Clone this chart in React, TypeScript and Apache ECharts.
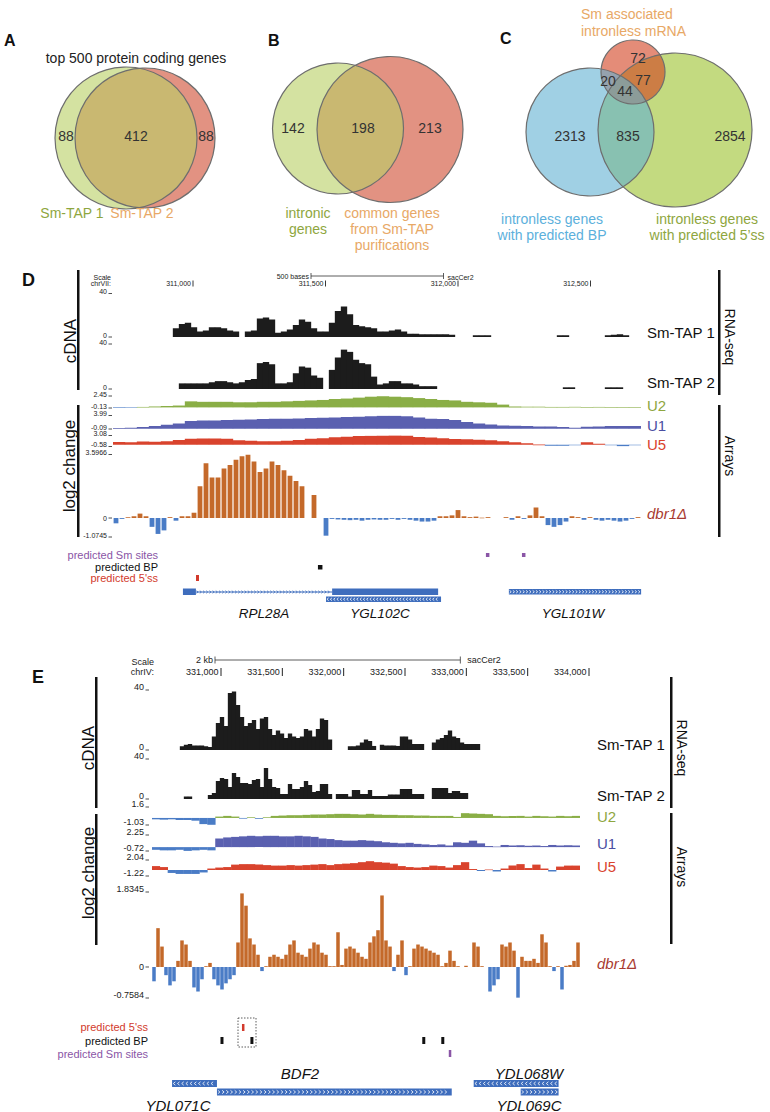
import React, { useEffect, useRef } from "react";
import * as echarts from "echarts";

const _ = null;

// ---------------- Venn data ----------------
const VENN_A_TITLE = "top 500 protein coding genes";
const VENN_A_SETS = ["Sm-TAP 1", "Sm-TAP 2"];
const VENN_A_COUNTS = [88, 412, 88];
const VENN_B_SETS = ["intronic\ngenes", "common genes\nfrom Sm-TAP\npurifications"];
const VENN_B_COUNTS = [142, 198, 213];
const VENN_C_SETS = ["Sm associated\nintronless mRNA", "intronless genes\nwith predicted BP", "intronless genes\nwith predicted 5\u2019ss"];
// sm only, sm&bp, sm&ss, all three, bp only, bp&ss, ss only
const VENN_C_COUNTS = [72, 20, 77, 44, 2313, 835, 2854];

// ---------------- Panel D (chrVII) ----------------
const D_TICKS = [311000, 311500, 312000, 312500];
const D_SM1 = [
  _, _, _, _, _, _, _, _, _, _,
  8, 12, 13, 9, 5, 6, 9, 9, 8, 6,
  5, _, 5, 6, 17, 18, 16, 4, 5, 7,
  11, 16, 14, 8, 5, 5, 13, 24, 28, 21,
  11, 10, 9, 8, 5, 5, 6, 7, 5, 3,
  3, 2.5, 2.5, 2.5, 2.5, 2.5, 2, _, _, _,
  1.5, 1.5, 1.5, _, _, _, _, _, _, _,
  _, _, _, _, 1.5, 1.5, _, _, _, _,
  _, _, 1.5, 2, 2.5, 1.5, _, _,
];
const D_SM2 = [
  _, _, _, _, _, _, _, _, _, _,
  _, 5, 5, 5, 5, 5, 6, 7, 7, 6,
  5, 6, 8, 9, 23, 24, 22, 5, 5, 6,
  14, 20, 19, 12, 10, _, 17, 28, 35, 33,
  26, 23, 22, 11, 4, 5, 7, 7, 5, 5,
  4, 2.5, 2.5, 2.5, _, _, _, _, _, _,
  _, _, _, _, _, _, _, _, _, _,
  _, _, _, _, _, 1.5, 1.5, _, _, _,
  _, _, 1.5, 1.5, 1.5, _, _, _,
];
const D_U2 = [
  -0.1, -0.05, 0.1, 0.2, 0.3, 0.4, 1.3, 1.2, 1.2, 1.2,
  1.1, 1.1, 1.2, 1.2, 1.3, 1.4, 1.5, 1.6, 1.8, 1.9,
  2.1, 2.3, 2.4, 2.3, 2.2, 2.0, 1.8, 1.6, 1.5, 1.2,
  1.1, 1.0, 0.6, 0.2, 0.15, 0.15, 0.1, 0.1, 0.12, 0.08,
  0.1, 0.05, 0.05, 0.05,
];
const D_U1 = [
  0.1, 0.3, 0.5, 0.8, 1.2, 1.6, 2.3, 2.5, 2.5, 2.6,
  2.7, 2.8, 2.9, 3.0, 3.0, 3.1, 3.2, 3.3, 3.4, 3.5,
  3.6, 3.8, 3.9, 3.9, 3.8, 3.4, 3.0, 2.9, 2.6, 2.0,
  1.6, 1.3, 1.0, 0.9, 0.8, 0.7, 0.7, 0.5, 0.3, 0.6,
  0.7, 0.8, 0.8, 0.8,
];
const D_U5 = [
  0.9, 0.8, 1.1, 1.0, 1.2, 1.6, 2.0, 2.1, 2.1, 2.0,
  1.5, 1.3, 1.2, 1.2, 1.3, 1.6, 2.0, 2.2, 2.5, 2.7,
  2.9, 3.0, 3.1, 3.2, 3.1, 2.6, 2.4, 2.2, 1.9, 1.8,
  1.7, 1.5, 1.2, 0.8, 0.5, 0.05, -0.3, -0.3, -0.1, 0.8,
  0.3, -0.2, -0.5, -0.2,
];
const D_DBR1 = [
  -0.3, -0.05, 0.05, 0.1, 0.25, 0.1, -0.5, -0.9, -0.7, 0.05,
  -0.15, 0.1, 0.1, 0.3, 1.8, 3.1, 2.3, 2.3, 2.8, 3.0,
  3.3, 3.5, 3.6, 3.2, 2.6, 2.8, 3.2, 3.0, 2.7, 2.4,
  2.1, 1.8, _, 1.3, _, -1.0, -0.05, -0.08, -0.1, -0.12,
  -0.1, -0.15, -0.1, -0.08, -0.1, -0.1, -0.05, -0.1, -0.05, -0.1,
  -0.15, -0.2, -0.2, -0.15, 0.1, 0.1, 0.15, 0.45, 0.1, 0.05,
  0.08, 0.02, 0.05, _, _, 0.05, -0.1, 0.1, -0.05, 0.15,
  0.6, 0.1, -0.4, -0.5, -0.4, -0.2, 0.1, 0.05, -0.1, 0.05,
  -0.1, -0.15, -0.1, -0.15, -0.2, -0.15, -0.05, 0.05,
];
const D_SM_RANGE = [0, 40];
const D_U2_RANGE = [-0.13, 2.45];
const D_U1_RANGE = [-0.09, 3.99];
const D_U5_RANGE = [-0.58, 3.08];
const D_DBR1_RANGE = [-1.0745, 3.5966];
const D_SM_SITES = [312111, 312247];
const D_BP = [311479];
const D_SS5 = [311017];
// gene models: [start, end]
const D_RPL28A_EXONS = [[310962, 311011], [311525, 311925]];
const D_YGL102C = [311502, 311936];
const D_YGL101W = [312192, 312691];

// ---------------- Panel E (chrIV) ----------------
const E_TICKS = [331000, 331500, 332000, 332500, 333000, 333500, 334000];
const E_SM1 = [
  _, _, _, _, _, _, _, 2.5, 3.5, 4,
  3, 3, 3, 2.5, 2, 9, 18, 22, 16, 38,
  39, 30, 22, 16, 18, 20, 14, 21, 22, 14,
  10, 13, 11, 8, 11, 9, 8, 9, 14, 13,
  9, 14, 21, 20, 7, _, _, _, _, 2.5,
  2.5, 3, 5, 7, 6, 2.7, _, 3.5, 3, 3,
  3, 2.7, 9, 9, 7, 4, 4, 4, _, _,
  5, 7, 8, 10, 13, 9, 8, 5, 4, 4,
  4, 4, _, _, _, _, _, _, _, _,
  _, _, _, _, _, _, _, _, _, _,
  _, _, _, _, _, _, _,
];
const E_SM2 = [
  _, _, _, _, _, _, _, _, 2.5, 2.5,
  _, _, _, _, 4, 6, 18, 21, 20, 12,
  26, 22, 16, 16, 15, 19, 20, 12, 31, 20,
  12, 11, 5, 5, 15, 10, 10, 12, 18, 14,
  7, 8, 15, 15, 5, _, 5, 5, 5, 2.5,
  9, 9, 5, 5, 9, 3, 3, 3, 3, 4.5,
  4.5, 4.5, 10, 10, 10, 5, 5, 5, _, _,
  11, 11, 11, 11, 6, 8, 8, 6, 6, _,
  _, _, _, _, _, _, _, _, _, _,
  _, _, _, _, _, _, _, _, _, _,
  _, _, _, _, _, _, _,
];
const E_U2 = [
  -0.2, -0.25, -0.2, -0.3, -0.3, -0.4, -0.9, -1.0, 0.2, 0.3,
  0.2, -0.1, 0.1, -0.1, 0.1, 0.3, 0.35, 0.4, 0.4, 0.45,
  0.5, 0.5, 0.55, 0.6, 0.6, 0.55, 0.5, 0.6, 0.5, 0.45,
  0.45, 0.4, 0.4, 0.35, 0.35, 0.3, 0.3, 0.3, 0.15, 0.7,
  0.65, 0.6, 0.55, 0.3, 0.25, 0.3, 0.3, 0.2, 0.3, 0.25,
  0.2, 0.3, 0.25, 0.3,
];
const E_U1 = [
  -0.5, -0.6, -0.6, -0.5, -0.7, -0.6, -0.5, -0.6, 1.6, 1.8,
  1.9, 2.0, 2.1, 2.0, 2.1, 2.1, 2.0, 2.0, 2.1, 2.0,
  1.9, 1.6, 1.5, 1.3, 1.2, 1.2, 1.3, 1.2, 1.1, 0.9,
  0.8, 0.7, 0.8, 0.6, 0.5, 0.4, 0.5, 0.3, 0.9, 0.8,
  1.2, 0.7, 0.2, 0.1, 0.4, 0.3, 0.35, 0.25, 0.3, 0.2,
  0.4, 0.3, 0.35, 0.3,
];
const E_U5 = [
  0.8, 0.6, -0.6, -0.8, -0.8, -0.8, -0.5, 0.3, 0.5, 0.6,
  1.1, 1.2, 1.2, 1.1, 1.0, 0.9, 0.9, 1.0, 0.9, 1.0,
  1.1, 1.2, 1.0, 1.2, 1.3, 1.4, 1.6, 1.8, 1.6, 1.5,
  1.3, 0.8, 0.6, 0.5, 0.6, 0.9, 0.8, 0.5, 1.0, 1.6,
  0.2, -0.2, 0.1, -0.3, 0.3, 0.9, 1.2, 0.4, 1.1, 0.3,
  -0.3, 0.7, 0.9, 0.9,
];
const E_DBR1 = [
  -0.35, 0.95, 0.5, -0.2, -0.45, -0.35, 0.15, 0.65, 0.55, 0.15,
  -0.5, -0.6, -0.3, 0.02, 0.1, -0.3, -0.45, -0.55, -0.4, -0.3,
  -0.2, 0.6, 1.8, 1.5, 0.7, 0.55, 0.3, -0.1, 0.02, 0.25,
  0.3, 0.25, 0.2, 0.3, 0.55, 0.65, 0.35, 0.3, 0.25, 0.45,
  0.6, 0.55, 0.35, 0.3, 0.02, 0.02, 0.85, 0.05, 0.45, 0.5,
  0.45, 0.35, 0.25, 0.2, 0.6, 0.75, 0.9, 1.75, 0.65, 0.5,
  -0.1, 0.3, 0.65, -0.2, 0.02, 0.45, 0.55, 0.5, 0.45, 0.4,
  0.35, 0.3, 0.02, 0.1, 0.4, 0.15, 0.02, _, 0.03, _,
  0.6, 0.5, 0.02, _, -0.6, -0.45, -0.3, 0.55, 0.5, 0.6,
  0.4, -0.75, 0.25, 0.15, 0.15, 0.2, 0.1, 0.8, 0.6, 0.02,
  -0.1, 0.02, -0.55, 0.03, 0.05, 0.15, 0.6,
];
const E_SM_RANGE = [0, 40];
const E_U2_RANGE = [-1.03, 1.6];
const E_U1_RANGE = [-0.72, 2.25];
const E_U5_RANGE = [-1.22, 2.04];
const E_DBR1_RANGE = [-0.7584, 1.8345];
const E_SS5 = [331179];
const E_BP = [331008, 331252, 332653, 332808];
const E_SM_SITES = [332865];
const E_YDL071C = [330601, 330967];
const E_BDF2 = [330967, 332881];
const E_YDL068W = [333060, 333752];
const E_YDL069C = [333443, 333752];

const TRACK_NAMES = ["Sm-TAP 1", "Sm-TAP 2", "U2", "U1", "U5", "dbr1\u0394"];

// ---------------- styles ----------------
const FONT = "'Liberation Sans', Arial, Helvetica, sans-serif";
const C_BLACK = "#1c1c1c";
const C_U2 = "#8aae46";
const C_U1 = "#5a60b0";
const C_U5 = "#d9432d";
const C_NEG = "#4a7cc6";
const C_DBR = "#c4692a";
const C_GENE = "#3e6dbd";
const T_GREEN = "#8ea63e";
const T_ORANGE = "#e8a866";
const T_BLUE = "#5cb0dc";
const C_PURPLE = "#8a55a6";
const C_RED = "#d23a2c";

export default function App() {
  const ref = useRef<HTMLDivElement>(null);
  useEffect(() => {
    const chart = echarts.init(ref.current as HTMLDivElement, undefined, { renderer: "svg" });
    const grid: any[] = [];
    const xAxis: any[] = [];
    const yAxis: any[] = [];
    const series: any[] = [];
    const g: any[] = [];

    const text = (x: number, y: number, s: string, size: number, color: string, align = "left", va = "middle", o: any = {}) => {
      g.push({
        type: "text", x, y, rotation: o.rot || 0, silent: true,
        style: {
          text: s, fontSize: size, fontFamily: FONT, fill: color,
          fontWeight: o.bold ? "bold" : "normal", fontStyle: o.italic ? "italic" : "normal",
          align, verticalAlign: va, textAlign: align, textVerticalAlign: va, lineHeight: o.lh,
        },
      });
    };
    const line = (x1: number, y1: number, x2: number, y2: number, color: string, w = 1, dash?: number[]) => {
      g.push({ type: "line", silent: true, shape: { x1, y1, x2, y2 }, style: { stroke: color, lineWidth: w, lineDash: dash } });
    };
    const rect = (x: number, y: number, w: number, h: number, fill: string) => {
      g.push({ type: "rect", silent: true, shape: { x, y, width: w, height: h }, style: { fill } });
    };
    const circ = (cx: number, cy: number, r: number, fill: string, stroke = "none") => {
      g.push({ type: "circle", silent: true, shape: { cx, cy, r }, style: { fill, stroke, lineWidth: 1.2 } });
    };
    const chevrons = (x1: number, x2: number, yc: number, dir: number, step: number, half: number, color: string) => {
      for (let x = x1 + step / 2; x <= x2 - step / 2 + 0.01; x += step) {
        g.push({
          type: "polyline", silent: true,
          shape: { points: [[x - dir * half * 0.7, yc - half], [x + dir * half * 0.5, yc], [x - dir * half * 0.7, yc + half]] },
          style: { stroke: color, lineWidth: 0.8, fill: "none" },
        });
      }
    };

    // ---------- Venn A ----------
    text(4, 40, "A", 16, "#111", "left", "middle", { bold: true });
    text(136, 58, VENN_A_TITLE, 14, "#222", "center");
    circ(145, 138, 70, "rgb(226,146,130)");
    circ(126, 138, 71, "rgba(186,208,103,0.62)");
    circ(145, 138, 70, "none", "#6e6e6e");
    circ(126, 138, 71, "none", "#6e6e6e");
    text(66, 136, String(VENN_A_COUNTS[0]), 14, "#333", "center");
    text(136, 136, String(VENN_A_COUNTS[1]), 14, "#333", "center");
    text(206, 136, String(VENN_A_COUNTS[2]), 14, "#333", "center");
    text(72, 213, VENN_A_SETS[0], 14, T_GREEN, "center");
    text(142, 213, VENN_A_SETS[1], 14, T_ORANGE, "center");

    // ---------- Venn B ----------
    text(268, 40, "B", 16, "#111", "left", "middle", { bold: true });
    circ(390, 129.5, 73, "rgb(226,146,130)");
    circ(338, 128.5, 65.5, "rgba(186,208,103,0.62)");
    circ(390, 129.5, 73, "none", "#6e6e6e");
    circ(338, 128.5, 65.5, "none", "#6e6e6e");
    text(293, 128, String(VENN_B_COUNTS[0]), 14, "#333", "center");
    text(363, 128, String(VENN_B_COUNTS[1]), 14, "#333", "center");
    text(430, 128, String(VENN_B_COUNTS[2]), 14, "#333", "center");
    text(308, 205, VENN_B_SETS[0], 14, T_GREEN, "center", "top", { lh: 16 });
    text(392, 205, VENN_B_SETS[1], 14, T_ORANGE, "center", "top", { lh: 16 });

    // ---------- Venn C ----------
    text(500, 38, "C", 16, "#111", "left", "middle", { bold: true });
    text(581, 5, VENN_C_SETS[0], 14, T_ORANGE, "left", "top", { lh: 17 });
    circ(675, 130, 77, "rgb(195,218,128)");
    circ(633, 72, 32, "rgba(210,63,30,0.6)");
    circ(590, 132, 64, "rgba(97,177,210,0.6)");
    circ(675, 130, 77, "none", "#6e6e6e");
    circ(633, 72, 32, "none", "#6e6e6e");
    circ(590, 132, 64, "none", "#6e6e6e");
    const cPos = [[638, 58], [608, 81], [643, 80], [625, 91], [570, 136], [628, 136], [730, 136]];
    VENN_C_COUNTS.forEach((v, i) => text(cPos[i][0], cPos[i][1], String(v), 14, "#333", "center"));
    text(552, 211, VENN_C_SETS[1], 14, T_BLUE, "center", "top", { lh: 16 });
    text(707, 211, VENN_C_SETS[2], 14, T_GREEN, "center", "top", { lh: 16 });

    // ---------- track builder (custom series: one rect per bin, through the axes' scales) ----------
    const addTrack = (t: any) => {
      const i = grid.length;
      grid.push({ left: t.left, top: t.top, width: t.width, height: t.bottom - t.top, containLabel: false, show: false });
      xAxis.push({ type: "category", gridIndex: i, show: false, boundaryGap: true, data: t.data.map((_v: any, k: number) => k) });
      yAxis.push({ type: "value", gridIndex: i, show: false, min: t.range[0], max: t.range[1], splitLine: { show: false } });
      const pts: number[][] = [];
      t.data.forEach((v: number | null, k: number) => { if (v != null) pts.push([k, v]); });
      series.push({
        type: "custom", xAxisIndex: i, yAxisIndex: i, silent: true, clip: true,
        encode: { x: 0, y: 1 },
        data: pts,
        renderItem: (_p: any, api: any) => {
          const k = api.value(0);
          const v = api.value(1);
          const top = api.coord([k, v]);
          const base = api.coord([k, 0]);
          const band = api.size([1, 0])[0];
          const w = band * t.frac;
          const extra = t.frac >= 1 ? 0.35 : 0;
          return {
            type: "rect",
            shape: { x: top[0] - w / 2 - extra / 2, y: Math.min(top[1], base[1]), width: w + extra, height: Math.max(0.6, Math.abs(base[1] - top[1])) },
            style: { fill: v < 0 ? t.neg : t.pos },
          };
        },
      });
      // scale labels
      const lx = t.labelX;
      const fs = t.labelSize;
      const fmt = (v: number) => String(v);
      text(lx, t.top + 1.5, fmt(t.range[1]), fs, "#222", "right", "bottom");
      line(lx + 1.5, t.top, lx + 5, t.top, "#222", 0.8);
      text(lx, t.bottom + 1.5, fmt(t.range[0]), fs, "#222", "right", "bottom");
      line(lx + 1.5, t.bottom, lx + 5, t.bottom, "#222", 0.8);
      if (t.zeroLabel) {
        const zy = t.top + (t.range[1] / (t.range[1] - t.range[0])) * (t.bottom - t.top);
        text(lx, zy, "0", fs, "#222", "right", "middle");
        line(lx + 1.5, zy, lx + 5, zy, "#222", 0.8);
      }
    };

    // ---------- Panel D ----------
    const dL = 113, dW = 528;
    const dX = (p: number) => 193 + (p - 311000) * 0.265;
    const dTracks = [
      { data: D_SM1, top: 293.5, bottom: 337, range: D_SM_RANGE, pos: C_BLACK, neg: C_BLACK, frac: 1 },
      { data: D_SM2, top: 344, bottom: 389, range: D_SM_RANGE, pos: C_BLACK, neg: C_BLACK, frac: 1 },
      { data: D_U2, top: 396, bottom: 408, range: D_U2_RANGE, pos: C_U2, neg: C_NEG, frac: 1 },
      { data: D_U1, top: 415.5, bottom: 429, range: D_U1_RANGE, pos: C_U1, neg: C_NEG, frac: 1 },
      { data: D_U5, top: 435.5, bottom: 446.5, range: D_U5_RANGE, pos: C_U5, neg: C_NEG, frac: 1 },
      { data: D_DBR1, top: 454.5, bottom: 537, range: D_DBR1_RANGE, pos: C_DBR, neg: C_NEG, frac: 0.8, zeroLabel: true },
    ];
    dTracks.forEach((t) => addTrack({ ...t, left: dL, width: dW, labelX: 107, labelSize: 7 }));

    text(22, 280, "D", 18, "#111", "left", "middle", { bold: true });
    text(111, 277, "Scale", 7, "#222", "right");
    text(111, 283.5, "chrVII:", 7, "#222", "right");
    const d500 = dX(311500) - dX(311000);
    text(309, 276, "500 bases", 7, "#222", "right");
    line(311, 276, 311 + d500, 276, "#333", 0.8);
    line(311, 273, 311, 279, "#333", 0.8);
    line(311 + d500, 273, 311 + d500, 279, "#333", 0.8);
    text(315 + d500, 277, "sacCer2", 7, "#222", "left");
    D_TICKS.forEach((p) => {
      const x = dX(p);
      text(x - 2, 283.5, p.toLocaleString("en-US"), 7, "#222", "right");
      line(x, 280.5, x, 286.5, "#222", 0.9);
    });
    // side bars and labels
    rect(77, 270, 2.5, 120, "#111");
    rect(77, 405, 2.5, 132, "#111");
    text(70, 341, "cDNA", 17, "#111", "center", "middle", { rot: Math.PI / 2 });
    text(69, 466, "log2 change", 17, "#111", "center", "middle", { rot: Math.PI / 2 });
    rect(718, 270, 2.5, 125, "#111");
    rect(718, 405, 2.5, 132, "#111");
    text(730, 337, "RNA-seq", 14, "#111", "center", "middle", { rot: -Math.PI / 2 });
    text(730, 456, "Arrays", 14, "#111", "center", "middle", { rot: -Math.PI / 2 });
    const dLabY = [332, 382, 405, 425, 444, 513];
    const labCol = ["#111", "#111", T_GREEN, "#4a4ea2", C_U5, "#a83a30"];
    TRACK_NAMES.forEach((n, i) => text(647, dLabY[i], n, 15, labCol[i], "left", "middle", { italic: i === 5 }));
    // annotations
    text(158, 555, "predicted Sm sites", 11, C_PURPLE, "right");
    text(158, 567, "predicted BP", 11, "#111", "right");
    text(158, 578, "predicted 5'ss", 11, C_RED, "right");
    D_SM_SITES.forEach((p) => rect(dX(p) - 1.5, 553, 3.5, 4, C_PURPLE));
    D_BP.forEach((p) => rect(dX(p) - 2, 565, 4.5, 4.5, "#111"));
    D_SS5.forEach((p) => rect(dX(p) - 1.5, 575, 3, 6, C_RED));
    // genes
    const ex1 = D_RPL28A_EXONS[0], ex2 = D_RPL28A_EXONS[1];
    line(dX(ex1[1]), 592, dX(ex2[0]), 592, C_GENE, 1);
    chevrons(dX(ex1[1]), dX(ex2[0]), 592, 1, 3.2, 1.3, C_GENE);
    D_RPL28A_EXONS.forEach((e) => rect(dX(e[0]), 588.5, dX(e[1]) - dX(e[0]), 6.5, C_GENE));
    rect(dX(D_YGL102C[0]), 596.5, dX(D_YGL102C[1]) - dX(D_YGL102C[0]), 5.5, C_GENE);
    chevrons(dX(D_YGL102C[0]), dX(D_YGL102C[1]), 599.25, -1, 3.3, 1.4, "#ffffff");
    rect(dX(D_YGL101W[0]), 589, dX(D_YGL101W[1]) - dX(D_YGL101W[0]), 5.5, C_GENE);
    chevrons(dX(D_YGL101W[0]), dX(D_YGL101W[1]), 591.75, 1, 3.3, 1.4, "#ffffff");
    text(264, 613, "RPL28A", 13.5, "#111", "center", "middle", { italic: true });
    text(380, 613, "YGL102C", 13.5, "#111", "center", "middle", { italic: true });
    text(573, 613, "YGL101W", 13.5, "#111", "center", "middle", { italic: true });

    // ---------- Panel E ----------
    const eL = 152, eW = 428;
    const eX = (p: number) => 221 + (p - 331000) * 0.12267;
    const eTracks = [
      { data: E_SM1, top: 690, bottom: 750, range: E_SM_RANGE, pos: C_BLACK, neg: C_BLACK, frac: 1 },
      { data: E_SM2, top: 759, bottom: 799, range: E_SM_RANGE, pos: C_BLACK, neg: C_BLACK, frac: 1 },
      { data: E_U2, top: 807, bottom: 825, range: E_U2_RANGE, pos: C_U2, neg: C_NEG, frac: 1 },
      { data: E_U1, top: 835, bottom: 851, range: E_U1_RANGE, pos: C_U1, neg: C_NEG, frac: 1 },
      { data: E_U5, top: 860, bottom: 876, range: E_U5_RANGE, pos: C_U5, neg: C_NEG, frac: 1 },
      { data: E_DBR1, top: 892, bottom: 998, range: E_DBR1_RANGE, pos: C_DBR, neg: C_NEG, frac: 0.88, zeroLabel: true },
    ];
    eTracks.forEach((t) => addTrack({ ...t, left: eL, width: eW, labelX: 144, labelSize: 9 }));

    text(32, 677, "E", 18, "#111", "left", "middle", { bold: true });
    text(154, 662, "Scale", 9, "#222", "right");
    text(154, 672, "chrIV:", 9, "#222", "right");
    const e2k = eX(333000) - eX(331000);
    text(213, 660, "2 kb", 9, "#222", "right");
    line(215, 660, 215 + e2k, 660, "#333", 0.8);
    line(215, 656.5, 215, 663.5, "#333", 0.8);
    line(215 + e2k, 656.5, 215 + e2k, 663.5, "#333", 0.8);
    text(222 + e2k, 660, "sacCer2", 9, "#222", "left");
    E_TICKS.forEach((p) => {
      const x = eX(p);
      text(x - 2.5, 672, p.toLocaleString("en-US"), 9, "#222", "right");
      line(x, 668, x, 676, "#222", 1);
    });
    rect(95, 677, 2.5, 131, "#111");
    rect(95, 814, 2.5, 131, "#111");
    text(88, 748, "cDNA", 17, "#111", "center", "middle", { rot: Math.PI / 2 });
    text(88, 873, "log2 change", 17, "#111", "center", "middle", { rot: Math.PI / 2 });
    rect(670, 677, 2.5, 131, "#111");
    rect(670, 813, 2.5, 131, "#111");
    text(682, 748, "RNA-seq", 14, "#111", "center", "middle", { rot: -Math.PI / 2 });
    text(682, 867, "Arrays", 14, "#111", "center", "middle", { rot: -Math.PI / 2 });
    const eLabY = [744, 795, 816, 843, 866, 963];
    TRACK_NAMES.forEach((n, i) => text(597, eLabY[i], n, 15, labCol[i], "left", "middle", { italic: i === 5 }));
    text(148, 1027, "predicted 5'ss", 11, C_RED, "right");
    text(148, 1041, "predicted BP", 11, "#111", "right");
    text(148, 1054, "predicted Sm sites", 11, C_PURPLE, "right");
    E_SS5.forEach((p) => rect(eX(p) - 1, 1024, 2.5, 7, C_RED));
    E_BP.forEach((p) => rect(eX(p) - 1.5, 1037, 3, 7, "#111"));
    E_SM_SITES.forEach((p) => rect(eX(p) - 1, 1050, 2.5, 7, C_PURPLE));
    g.push({ type: "rect", silent: true, shape: { x: 238, y: 1018, width: 18, height: 29 }, style: { fill: "none", stroke: "#333", lineWidth: 0.8, lineDash: [1.5, 1.5] } });
    const eBox = (r: number[], y: number, dir: number) => {
      rect(eX(r[0]), y, eX(r[1]) - eX(r[0]), 7, C_GENE);
      chevrons(eX(r[0]), eX(r[1]), y + 3.5, dir, 4.2, 1.7, "#ffffff");
    };
    eBox(E_YDL071C, 1080, -1);
    eBox(E_BDF2, 1088.5, 1);
    eBox(E_YDL068W, 1080, -1);
    eBox(E_YDL069C, 1088.5, 1);
    text(300, 1073, "BDF2", 15, "#111", "center", "middle", { italic: true });
    text(529, 1073, "YDL068W", 15, "#111", "center", "middle", { italic: true });
    text(178, 1105, "YDL071C", 15, "#111", "center", "middle", { italic: true });
    text(529, 1105, "YDL069C", 15, "#111", "center", "middle", { italic: true });

    chart.setOption({
      animation: false,
      backgroundColor: "#ffffff",
      grid, xAxis, yAxis, series,
      graphic: { elements: g },
    });
    return () => chart.dispose();
  }, []);
  return <div ref={ref} style={{ position: "absolute", left: 0, top: 0, width: 770, height: 1112 }} />;
}
